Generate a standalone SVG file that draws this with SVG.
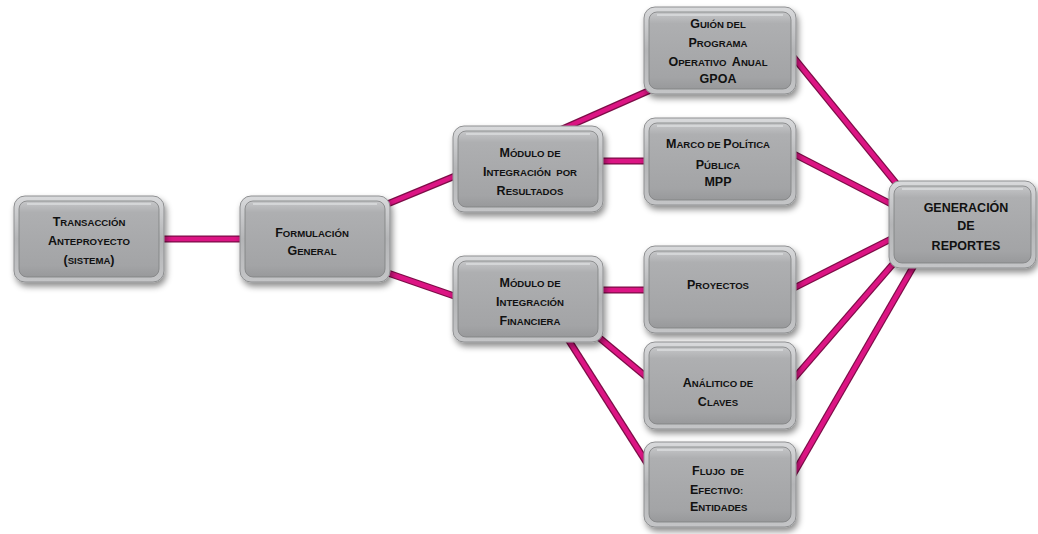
<svg xmlns="http://www.w3.org/2000/svg" width="1038" height="534" viewBox="0 0 1038 534">
<defs>
<linearGradient id="rim" x1="0" y1="0" x2="0" y2="1">
<stop offset="0" stop-color="#d9dadc"/>
<stop offset="0.5" stop-color="#b4b5b7"/>
<stop offset="1" stop-color="#c4c5c7"/>
</linearGradient>
<linearGradient id="face" x1="0" y1="0" x2="0" y2="1">
<stop offset="0" stop-color="#c6c7c9"/>
<stop offset="0.15" stop-color="#aeafb1"/>
<stop offset="0.85" stop-color="#a3a4a6"/>
<stop offset="1" stop-color="#98999b"/>
</linearGradient>
<filter id="sh" x="-10%" y="-10%" width="125%" height="135%">
<feDropShadow dx="2" dy="4" stdDeviation="3" flood-color="#000" flood-opacity="0.45"/>
</filter>
</defs>
<style>
.rim{fill:url(#rim);stroke:#8e8f91;stroke-width:1;filter:url(#sh)}
.face{fill:url(#face);stroke:#7f8082;stroke-width:0.8}
.hl{fill:none;stroke:#e4e5e7;stroke-width:1.5;stroke-opacity:0.8}
.t{font-family:"Liberation Sans",Arial,sans-serif;font-weight:bold;font-size:12.5px;fill:#111;text-anchor:middle}
.s{font-size:9.6px}
.c{font-family:"Liberation Sans",Arial,sans-serif;font-weight:bold;font-size:12.5px;fill:#111;text-anchor:middle}
.lo{stroke:#7d0d47;stroke-width:7;stroke-linecap:butt;fill:none}
.li{stroke:#dc1584;stroke-width:4.5;stroke-linecap:butt;fill:none}
</style>
<g id="connectors">
<g class="lo">
<line x1="150" y1="239" x2="250" y2="239"/>
<line x1="385" y1="205" x2="460" y2="174"/>
<line x1="385" y1="272" x2="460" y2="298"/>
<line x1="560" y1="130" x2="655" y2="88"/>
<line x1="595" y1="161" x2="650" y2="161"/>
<line x1="595" y1="290" x2="650" y2="290"/>
<line x1="590" y1="330" x2="650" y2="380"/>
<line x1="566" y1="336" x2="650" y2="468"/>
<line x1="790" y1="53" x2="900" y2="188"/>
<line x1="790" y1="152" x2="895" y2="206"/>
<line x1="790" y1="290" x2="895" y2="237"/>
<line x1="790" y1="383" x2="900" y2="256"/>
<line x1="790" y1="480" x2="916" y2="262"/>
</g>
<g class="li">
<line x1="150" y1="239" x2="250" y2="239"/>
<line x1="385" y1="205" x2="460" y2="174"/>
<line x1="385" y1="272" x2="460" y2="298"/>
<line x1="560" y1="130" x2="655" y2="88"/>
<line x1="595" y1="161" x2="650" y2="161"/>
<line x1="595" y1="290" x2="650" y2="290"/>
<line x1="590" y1="330" x2="650" y2="380"/>
<line x1="566" y1="336" x2="650" y2="468"/>
<line x1="790" y1="53" x2="900" y2="188"/>
<line x1="790" y1="152" x2="895" y2="206"/>
<line x1="790" y1="290" x2="895" y2="237"/>
<line x1="790" y1="383" x2="900" y2="256"/>
<line x1="790" y1="480" x2="916" y2="262"/>
</g>
</g>
<g id="n-transaccion">
<rect class="rim" x="14" y="196" width="150" height="86" rx="11"/>
<rect class="face" x="19" y="201" width="140" height="76" rx="8"/>
<path class="hl" d="M27 204 H151"/>
<text class="t" x="89" y="226">T<tspan class="s">RANSACCIÓN</tspan></text>
<text class="t" x="89" y="245">A<tspan class="s">NTEPROYECTO</tspan></text>
<text class="t" x="89" y="264">(<tspan class="s">SISTEMA</tspan>)</text>
</g>
<g id="n-formulacion">
<rect class="rim" x="240" y="196" width="150" height="86" rx="11"/>
<rect class="face" x="245" y="201" width="140" height="76" rx="8"/>
<path class="hl" d="M253 204 H377"/>
<text class="t" x="312" y="237">F<tspan class="s">ORMULACIÓN</tspan></text>
<text class="t" x="312" y="255">G<tspan class="s">ENERAL</tspan></text>
</g>
<g id="n-mir">
<rect class="rim" x="453" y="126" width="150" height="86" rx="11"/>
<rect class="face" x="458" y="131" width="140" height="76" rx="8"/>
<path class="hl" d="M466 134 H590"/>
<text class="t" x="530" y="157">M<tspan class="s">ÓDULO DE</tspan></text>
<text class="t" x="530" y="176" xml:space="preserve">I<tspan class="s">NTEGRACIÓN  POR</tspan></text>
<text class="t" x="530" y="195">R<tspan class="s">ESULTADOS</tspan></text>
</g>
<g id="n-mif">
<rect class="rim" x="453" y="256" width="150" height="86" rx="11"/>
<rect class="face" x="458" y="261" width="140" height="76" rx="8"/>
<path class="hl" d="M466 264 H590"/>
<text class="t" x="530" y="287">M<tspan class="s">ÓDULO DE</tspan></text>
<text class="t" x="530" y="306">I<tspan class="s">NTEGRACIÓN</tspan></text>
<text class="t" x="530" y="325">F<tspan class="s">INANCIERA</tspan></text>
</g>
<g id="n-gpoa">
<rect class="rim" x="644" y="7" width="152" height="87" rx="11"/>
<rect class="face" x="649" y="12" width="142" height="77" rx="8"/>
<path class="hl" d="M657 15 H783"/>
<text class="t" x="718" y="28">G<tspan class="s">UIÓN DEL</tspan></text>
<text class="t" x="718" y="47">P<tspan class="s">ROGRAMA</tspan></text>
<text class="t" x="718" y="66" xml:space="preserve">O<tspan class="s">PERATIVO  </tspan>A<tspan class="s">NUAL</tspan></text>
<text class="c" x="718" y="83">GPOA</text>
</g>
<g id="n-mpp">
<rect class="rim" x="644" y="118" width="152" height="87" rx="11"/>
<rect class="face" x="649" y="123" width="142" height="77" rx="8"/>
<path class="hl" d="M657 126 H783"/>
<text class="t" x="718" y="148">M<tspan class="s">ARCO DE </tspan>P<tspan class="s">OLÍTICA</tspan></text>
<text class="t" x="718" y="169">P<tspan class="s">ÚBLICA</tspan></text>
<text class="c" x="718" y="186">MPP</text>
</g>
<g id="n-proyectos">
<rect class="rim" x="644" y="246" width="152" height="87" rx="11"/>
<rect class="face" x="649" y="251" width="142" height="77" rx="8"/>
<path class="hl" d="M657 254 H783"/>
<text class="t" x="718" y="289">P<tspan class="s">ROYECTOS</tspan></text>
</g>
<g id="n-analitico">
<rect class="rim" x="644" y="342" width="152" height="87" rx="11"/>
<rect class="face" x="649" y="347" width="142" height="77" rx="8"/>
<path class="hl" d="M657 350 H783"/>
<text class="t" x="718" y="387">A<tspan class="s">NÁLITICO DE</tspan></text>
<text class="t" x="718" y="406">C<tspan class="s">LAVES</tspan></text>
</g>
<g id="n-flujo">
<rect class="rim" x="644" y="442" width="152" height="85" rx="11"/>
<rect class="face" x="649" y="447" width="142" height="75" rx="8"/>
<path class="hl" d="M657 450 H783"/>
<text class="t" x="692" y="475" style="text-anchor:start" xml:space="preserve">F<tspan class="s">LUJO  DE</tspan></text>
<text class="t" x="690" y="494" style="text-anchor:start">E<tspan class="s">FECTIVO:</tspan></text>
<text class="t" x="690" y="511" style="text-anchor:start">E<tspan class="s">NTIDADES</tspan></text>
</g>
<g id="n-generacion">
<rect class="rim" x="889" y="181" width="147" height="87" rx="11"/>
<rect class="face" x="894" y="186" width="137" height="77" rx="8"/>
<path class="hl" d="M902 189 H1023"/>
<text class="c" x="966" y="212">GENERACIÓN</text>
<text class="c" x="966" y="230">DE</text>
<text class="c" x="966" y="250">REPORTES</text>
</g>
</svg>
